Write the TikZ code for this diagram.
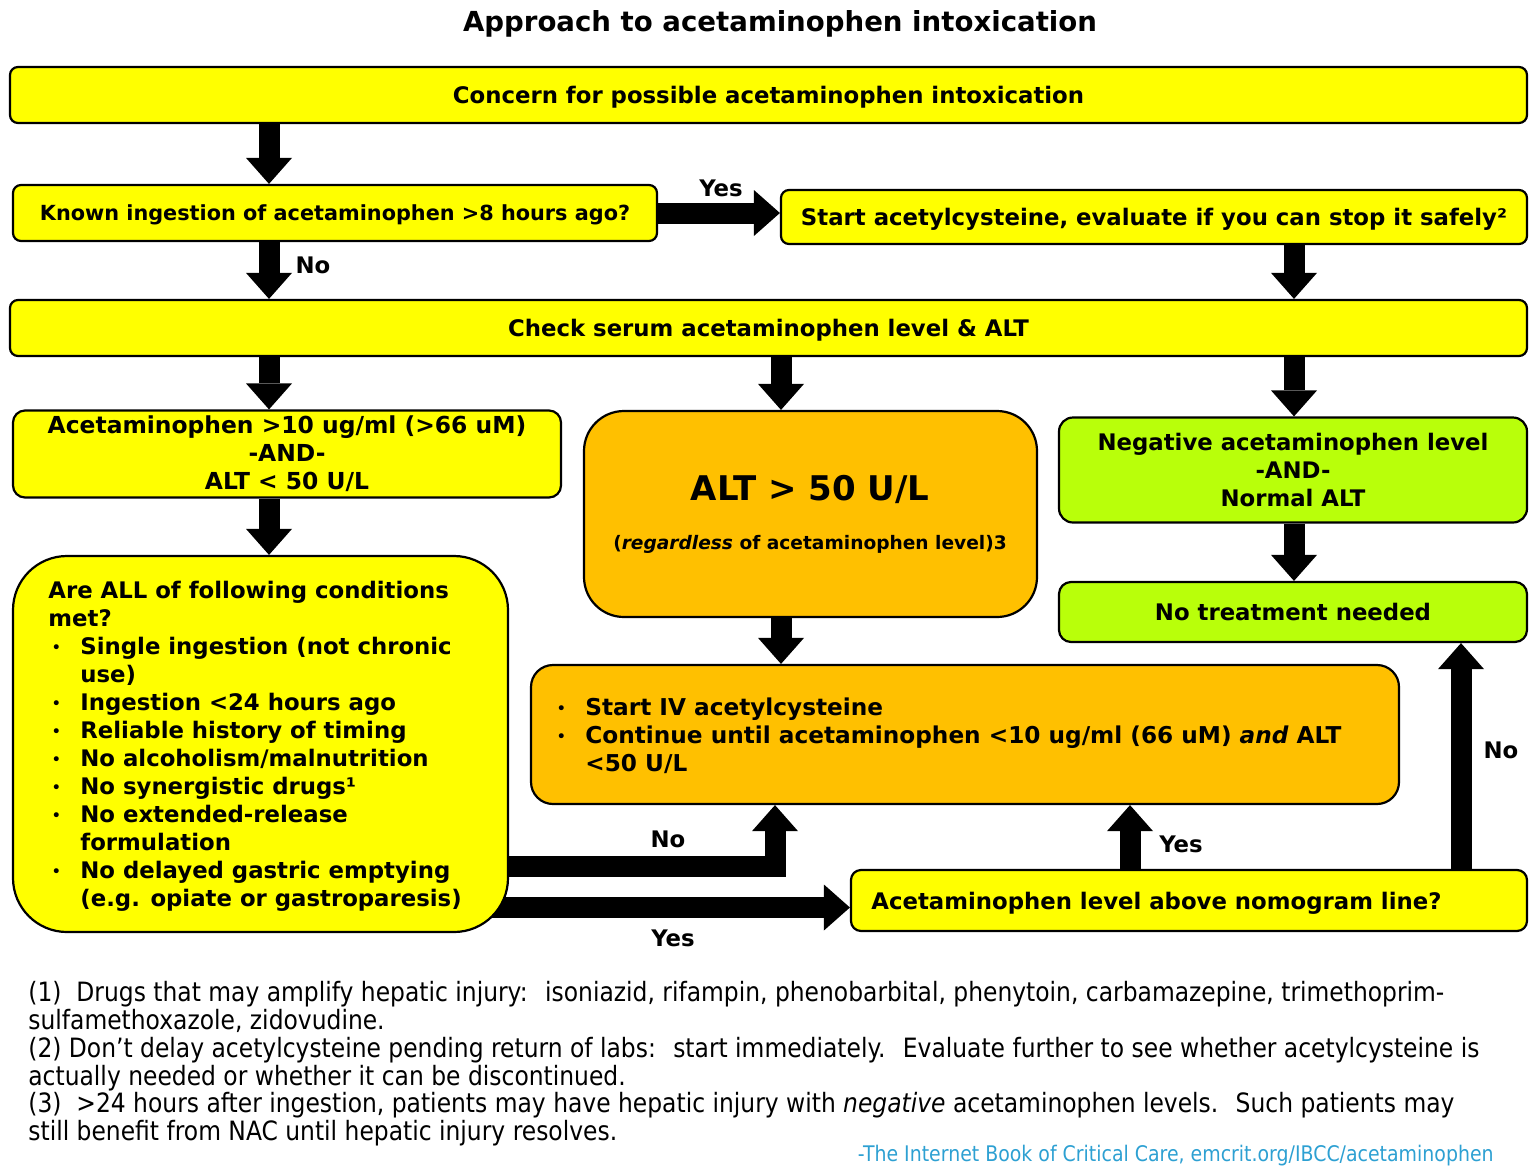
\documentclass[tikz,border=0pt]{standalone}
\usepackage{fontspec}
\setmainfont{DejaVu Sans}
\newfontfamily\fnfont[FakeStretch=0.88]{DejaVu Sans}
\usetikzlibrary{arrows.meta}
\definecolor{yel}{RGB}{255,255,0}
\definecolor{org}{RGB}{255,192,0}
\definecolor{grn}{RGB}{185,255,10}
\definecolor{creditblue}{RGB}{45,160,210}
\pgfdeclarelayer{bg}
\pgfsetlayers{bg,main}
\newcommand\bul{\makebox[16pt][l]{\hspace{1.5pt}\raisebox{0.6pt}{\mdseries\fontsize{8.5}{9}\selectfont •}}}
\newcommand\ind{\hspace*{16pt}}
\tikzset{
  box/.style={draw=black, line width=1.1pt, fill=yel, rounded corners=4pt, inner sep=0pt, align=center, font=\fontsize{11.4}{14}\selectfont\bfseries},
  onel/.style={text depth=0pt},
  orgbox/.style={box, fill=org},
  grnbox/.style={box, fill=grn},
  barrow/.style={line width=10.5pt, -{Triangle[length=13pt, width=23pt, line width=0pt]}},
  lbl/.style={font=\fontsize{11.4}{14}\selectfont\bfseries, inner sep=0pt},
  txt/.style={font=\fontsize{11.4}{14}\selectfont\bfseries, inner sep=0pt, align=left},
}
\begin{document}
\begin{tikzpicture}[x=0.5pt,y=-0.5pt]
\useasboundingbox (0,0) rectangle (1536,1168);
% title
\node[font=\fontsize{13.8}{16}\selectfont\bfseries, inner sep=0pt, text depth=0pt] (title) at (780,21) {Approach to acetaminophen intoxication};
% boxes
\node[box, onel, minimum width=758.5pt, minimum height=28pt] (b1) at (768.5,95) {Concern for possible acetaminophen intoxication};
\node[box, onel, minimum width=322pt, minimum height=28pt, font=\fontsize{10.4}{14}\selectfont\bfseries] (b2) at (335,213) {Known ingestion of acetaminophen >8 hours ago?};
\node[box, onel, minimum width=373pt, minimum height=27pt] (b3) at (1154,217) {Start acetylcysteine, evaluate if you can stop it safely²};
\node[box, onel, minimum width=758.5pt, minimum height=28pt] (b4) at (768.5,328) {Check serum acetaminophen level \& ALT};
\node[box, rounded corners=6pt, minimum width=274pt, minimum height=43.5pt, font=\fontsize{11.7}{14}\selectfont\bfseries] (b5) at (287,454) {Acetaminophen >10 ug/ml (>66 uM)\\-AND-\\ALT < 50 U/L};
\node[orgbox, rounded corners=20pt, minimum width=226.5pt, minimum height=103pt] (b6) at (810.5,514) {};
\node[grnbox, rounded corners=7pt, minimum width=234pt, minimum height=52.5pt] (b7) at (1293,470) {Negative acetaminophen level\\-AND-\\Normal ALT};
\node[grnbox, onel, rounded corners=6pt, minimum width=234pt, minimum height=30pt] (b8) at (1293,612) {No treatment needed};
\node[box, rounded corners=27pt, minimum width=247.5pt, minimum height=188pt] (b9) at (260.5,744) {};
\node[orgbox, rounded corners=11pt, minimum width=434pt, minimum height=69.5pt] (b10) at (965,734.5) {};
\node[box, rounded corners=5pt, minimum width=338pt, minimum height=30.5pt] (b11) at (1189,900.5) {};
% texts inside boxes
\node[font=\fontsize{17}{20}\selectfont\bfseries, anchor=base, inner sep=0pt] (alt) at (810,500) {ALT > 50 U/L};
\node[font=\fontsize{9.3}{11}\selectfont\bfseries, anchor=base, inner sep=0pt] (altsub) at (810,549) {(\textit{regardless} of acetaminophen level)3};
\node[txt, anchor=west] (t9) at (48,746) {Are ALL of following conditions\\met?\\\bul Single ingestion (not chronic\\\ind use)\\\bul Ingestion <24 hours ago\\\bul Reliable history of timing\\\bul No alcoholism/malnutrition\\\bul No synergistic drugs¹\\\bul No extended-release\\\ind formulation\\\bul No delayed gastric emptying\\\ind (e.g. opiate or gastroparesis)};
\node[txt, anchor=west, font=\fontsize{11.6}{14}\selectfont\bfseries] (t10) at (553,736) {\bul Start IV acetylcysteine\\\bul Continue until acetaminophen <10 ug/ml (66 uM) \textit{and} ALT\\\ind <50 U/L};
\node[lbl, anchor=west, text depth=0pt] (t11) at (871,900.5) {Acetaminophen level above nomogram line?};
% column coordinates
\coordinate (cA) at (269,0);
\coordinate (cB) at (781,0);
\coordinate (cC) at (1294,0);
\coordinate (cD) at (775,0);
\coordinate (cE) at (1130,0);
\coordinate (cF) at (1461,0);
\coordinate (yNo) at (0,866.5);
\coordinate (yYes) at (0,907.5);
% connectors
\begin{pgfonlayer}{bg}
\draw[barrow] (b1.south -| cA) -- (b2.north -| cA);
\draw[barrow] (b2.east) -- (b2.east -| b3.west);
\draw[barrow] (b2.south -| cA) -- (b4.north -| cA);
\draw[barrow] (b3.south -| cC) -- (b4.north -| cC);
\draw[barrow] (b4.south -| cA) -- (b5.north -| cA);
\draw[barrow] (b4.south -| cB) -- (b6.north -| cB);
\draw[barrow] (b4.south -| cC) -- (b7.north -| cC);
\draw[barrow] (b5.south -| cA) -- (b9.north -| cA);
\draw[barrow] (b6.south -| cB) -- (b10.north -| cB);
\draw[barrow] (b7.south -| cC) -- (b8.north -| cC);
\draw[barrow] (b9.center |- yNo) -| (b10.south -| cD);
\draw[barrow] (b9.center |- yYes) -- (b11.west |- yYes);
\draw[barrow] (b11.north -| cE) -- (b10.south -| cE);
\draw[barrow] (b11.north -| cF) -- (b8.south -| cF);
\end{pgfonlayer}
% connector labels
\node[lbl] (lyes1) at (721,188) {Yes};
\node[lbl] (lno1) at (313,265) {No};
\node[lbl] (lno2) at (668,839) {No};
\node[lbl] (lyes2) at (673,938) {Yes};
\node[lbl] (lyes3) at (1181,844) {Yes};
\node[lbl] (lno3) at (1501,750) {No};
% footnotes
\node[font=\fnfont\fontsize{13.3}{13.9}\selectfont, align=left, anchor=north west, inner sep=0pt] (notes) at (28,981) {(1)~ Drugs that may amplify hepatic injury:~ isoniazid, rifampin, phenobarbital, phenytoin, carbamazepine, trimethoprim-\\sulfamethoxazole, zidovudine.\\(2) Don’t delay acetylcysteine pending return of labs:~ start immediately.~ Evaluate further to see whether acetylcysteine is\\actually needed or whether it can be discontinued.\\(3)~ >24 hours after ingestion, patients may have hepatic injury with \textit{negative} acetaminophen levels.~ Such patients may\\still benefit from NAC until hepatic injury resolves.};
\node[font=\fnfont\fontsize{10.75}{12}\selectfont, text=creditblue, anchor=east, inner sep=0pt] (credit) at (1494,1156) {-The Internet Book of Critical Care, emcrit.org/IBCC/acetaminophen};
\end{tikzpicture}
\end{document}
